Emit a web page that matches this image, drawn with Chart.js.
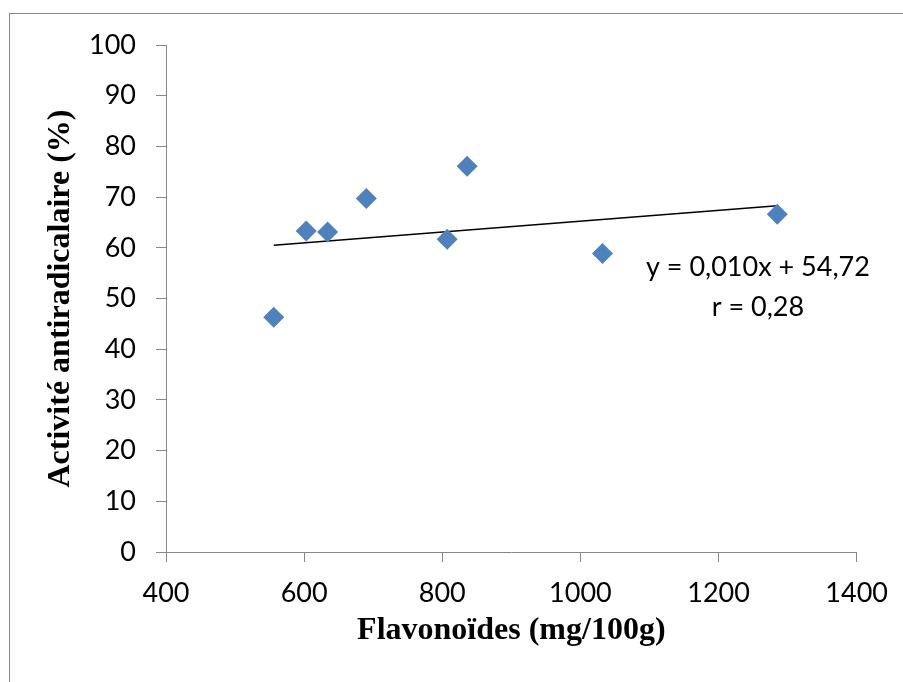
<!DOCTYPE html>
<html>
<head>
<meta charset="utf-8">
<script src="https://cdn.jsdelivr.net/npm/chart.js@4/dist/chart.umd.min.js"></script>
<style>
  html, body { margin: 0; padding: 0; background: #fff; }
  #frame { position: absolute; left: 9px; top: 13px; width: 1000px; height: 1000px;
           border-left: 1px solid #868686; border-top: 1px solid #868686; }
  #wrap { position: absolute; left: 0; top: 0; width: 903px; height: 682px; }
</style>
</head>
<body>
<div id="frame"></div>
<div id="wrap"><canvas id="myChart"></canvas></div>
<script>
// measured values
var flavonoides = [556, 603, 634, 690, 807, 836, 1032, 1285];
var activite = [46.3, 63.3, 63.1, 69.7, 61.7, 76.1, 58.9, 66.6];

// trend line end points
var trendX = [556, 1285];
var trendY = [60.5, 68.3];

var equationText = ['y = 0,010x + 54,72', 'r = 0,28'];
var equationPos = [[1257, 56.2], [1257, 48.35]];

document.addEventListener("DOMContentLoaded", function () {

    var points = flavonoides.map(function (x, i) { return {x: x, y: activite[i]}; });
    var trend = trendX.map(function (x, i) { return {x: x, y: trendY[i]}; });

    // draws the regression equation at data coordinates
    var equationLabel = {
        id: 'equationLabel',
        afterDatasetsDraw: function (chart) {
            var ctx = chart.ctx;
            var xs = chart.scales.x, ys = chart.scales.y;
            ctx.save();
            ctx.font = '27px Lato';
            ctx.fillStyle = '#000';
            ctx.textAlign = 'center';
            ctx.textBaseline = 'middle';
            equationText.forEach(function (t, i) {
                ctx.fillText(t, xs.getPixelForValue(equationPos[i][0]), ys.getPixelForValue(equationPos[i][1]));
            });
            ctx.restore();
        }
    };

    var ctx = document.getElementById('myChart').getContext('2d');
    var chart = new Chart(ctx, {
        type: 'scatter',
        data: {
            datasets: [{
                label: 'Activité',
                data: points,
                backgroundColor: '#4F81BD',
                borderWidth: 0,
                pointStyle: 'rectRot',
                pointRadius: 10.5,
                pointHoverRadius: 10.5
            }, {
                type: 'line',
                label: 'Tendance',
                data: trend,
                borderColor: '#000',
                borderWidth: 1.5,
                pointRadius: 0,
                fill: false
            }]
        },
        options: {
            responsive: true,
            maintainAspectRatio: false,
            animation: false,
            layout: { padding: { left: 0, top: 45, right: 44, bottom: 0 } },
            plugins: {
                legend: { display: false },
                tooltip: { enabled: false }
            },
            scales: {
                x: {
                    type: 'linear',
                    min: 400,
                    max: 1400,
                    ticks: {
                        stepSize: 200, color: '#000', padding: 15, font: { family: 'Lato', size: 27 },
                        callback: function (v) { return String(v); }
                    },
                    grid: { drawOnChartArea: false, drawTicks: true, tickLength: 10, color: '#868686' },
                    border: { color: '#868686', width: 1 },
                    title: {
                        display: true,
                        text: 'Flavonoïdes (mg/100g)',
                        color: '#000',
                        font: { family: 'Liberation Serif', size: 32, weight: 'bold' },
                        padding: { top: 0, bottom: 32 }
                    },
                    afterFit: function (scale) { scale.height = 130; }
                },
                y: {
                    min: 0,
                    max: 100,
                    ticks: { stepSize: 10, color: '#000', padding: 20, font: { family: 'Lato', size: 27 } },
                    grid: { drawOnChartArea: false, drawTicks: true, tickLength: 10, color: '#868686' },
                    border: { color: '#868686', width: 1 },
                    title: {
                        display: true,
                        text: 'Activité antiradicalaire (%)',
                        color: '#000',
                        font: { family: 'Liberation Serif', size: 32, weight: 'bold' },
                        padding: { top: 42, bottom: 0 }
                    },
                    afterFit: function (scale) { scale.width = 166; }
                }
            }
        },
        plugins: [equationLabel]
    });
});
</script>
</body>
</html>
